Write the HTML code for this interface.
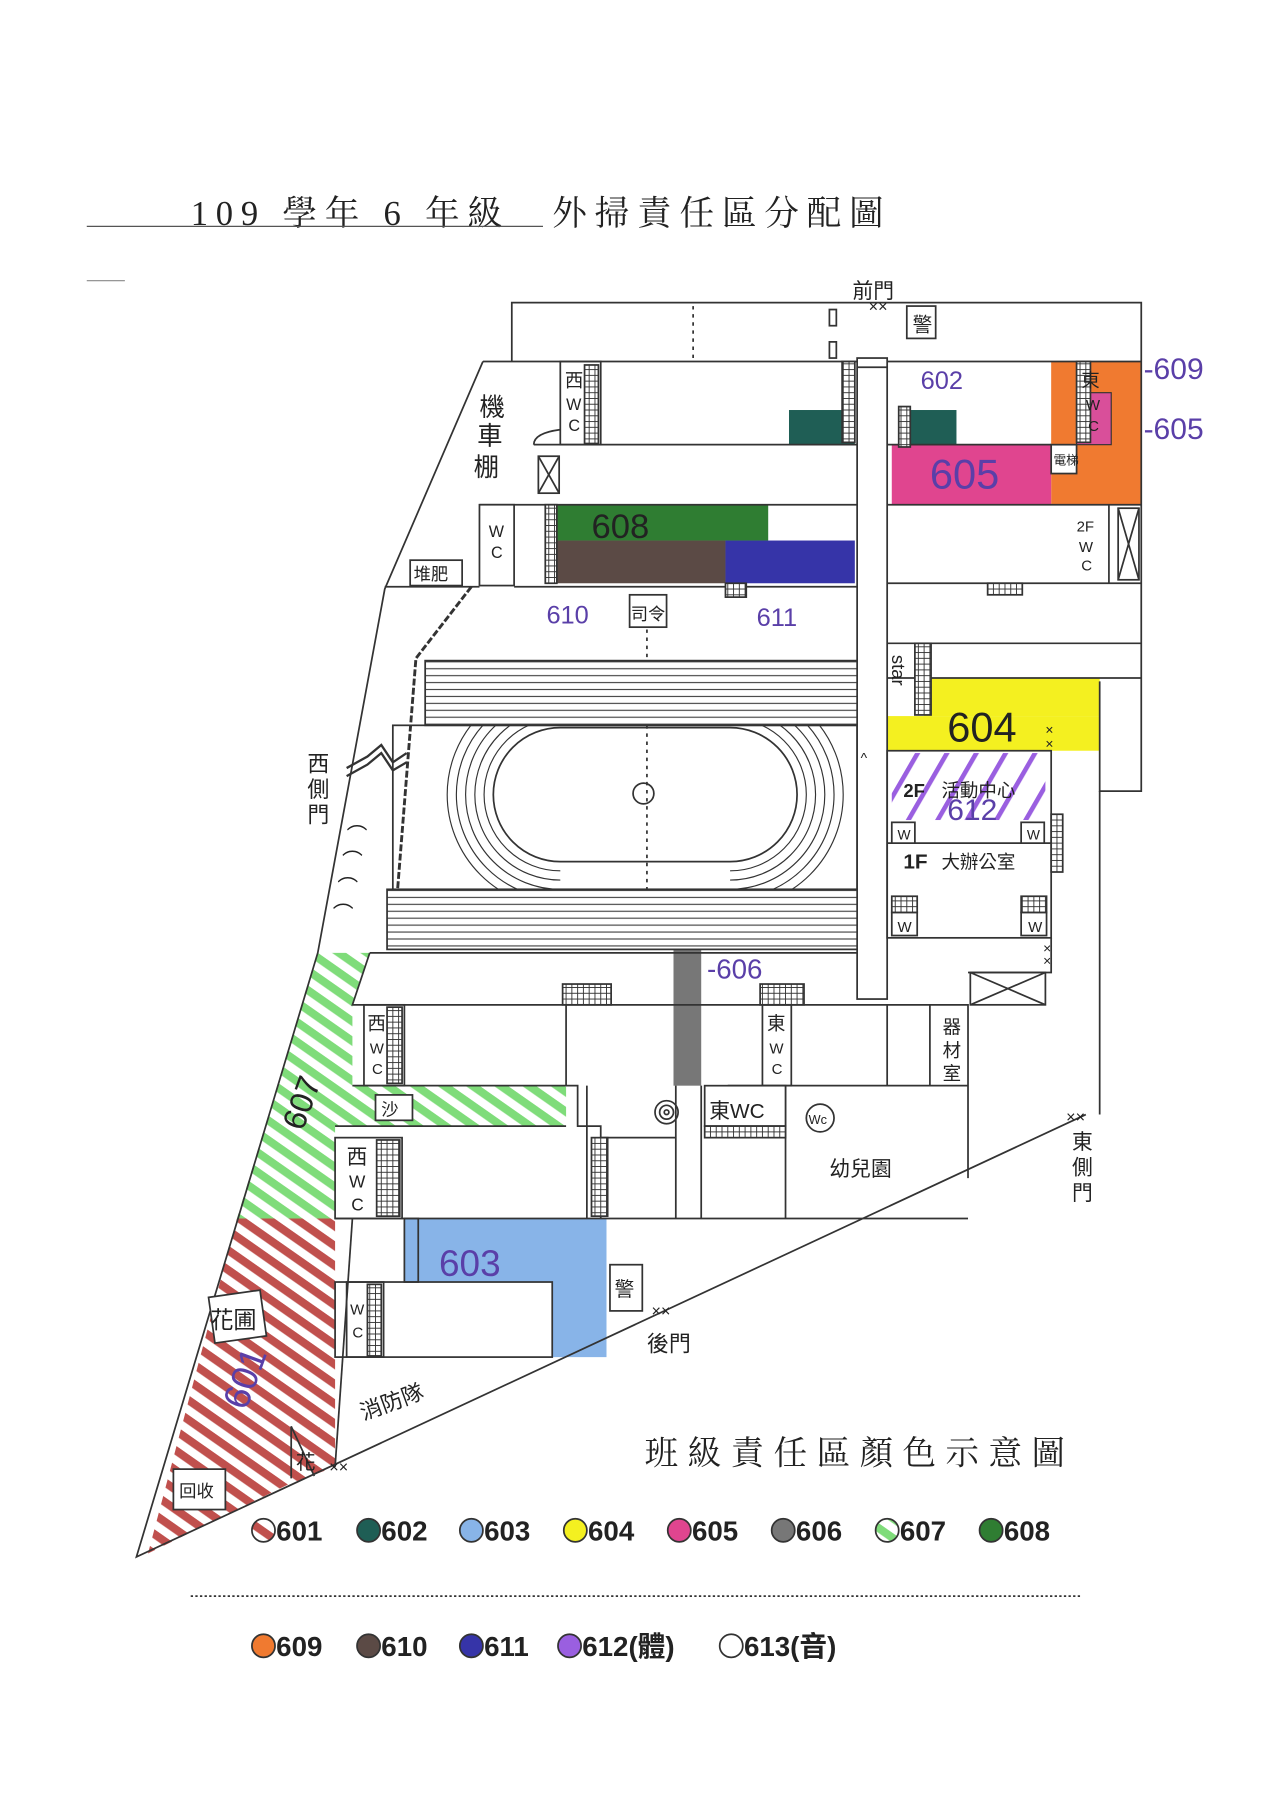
<!DOCTYPE html>
<html><head><meta charset="utf-8"><style>
html,body{margin:0;padding:0;background:#fff;}
svg{display:block;}
text{font-family:"Liberation Sans","Noto Sans CJK TC",sans-serif;fill:#222;}
.serif{font-family:"Liberation Serif","Noto Serif CJK SC",serif;}
.pu{fill:#5a3fa8;}
</style></head><body>
<svg width="1280" height="1811" viewBox="0 0 1108 1568" xmlns="http://www.w3.org/2000/svg">
<defs>
<pattern id="hg" width="14" height="14" patternUnits="userSpaceOnUse" patternTransform="rotate(35)"><rect width="14" height="14" fill="#fff"/><rect width="14" height="7" fill="#7fdc7a"/></pattern>
<pattern id="hr" width="14" height="14" patternUnits="userSpaceOnUse" patternTransform="rotate(35)"><rect width="14" height="14" fill="#fff"/><rect width="14" height="7" fill="#c0504d"/></pattern>
<pattern id="hp" width="22" height="22" patternUnits="userSpaceOnUse" patternTransform="rotate(-60)"><rect width="22" height="22" fill="#fff"/><rect width="22" height="4" fill="#9a5fe0"/></pattern>
<pattern id="st" width="10" height="6" patternUnits="userSpaceOnUse"><rect width="10" height="6" fill="#fff"/><line x1="0" y1="3" x2="10" y2="3" stroke="#444" stroke-width="1"/></pattern>
<pattern id="lad" width="5" height="5" patternUnits="userSpaceOnUse"><rect width="5" height="5" fill="#fff" stroke="#333" stroke-width="0.8"/></pattern>
<clipPath id="fld"><rect x="340" y="628" width="402" height="142"/></clipPath>
</defs>

<!-- Title -->
<text x="165" y="195" font-size="30" class="serif" textLength="600" lengthAdjust="spacing">109 學年 6 年級　外掃責任區分配圖</text>
<line x1="75" y1="196" x2="470" y2="196" stroke="#555" stroke-width="1"/>
<line x1="75" y1="243" x2="108" y2="243" stroke="#888" stroke-width="1"/>

<!-- color fills -->
<g>
<rect x="910" y="313" width="78" height="124" fill="#f07a30"/>
<rect x="932" y="340" width="30" height="45" fill="#d94f9a" stroke="#333"/>
<rect x="772" y="385" width="138" height="52" fill="#e0458f"/>
<rect x="683" y="355" width="57" height="30" fill="#1f5e55"/>
<rect x="778" y="355" width="50" height="30" fill="#1f5e55"/>
<rect x="472" y="437" width="193" height="31" fill="#2f7d32"/>
<rect x="472" y="468" width="156" height="37" fill="#5b4a45"/>
<rect x="628" y="468" width="112" height="37" fill="#3634a8"/>
<rect x="800" y="587" width="152" height="33" fill="#f4f020"/>
<rect x="768" y="620" width="184" height="30" fill="#f4f020"/>
<rect x="772" y="652" width="133" height="58" fill="url(#hp)"/>
<rect x="583" y="770" width="24" height="170" fill="#777"/>
<polygon points="275,825 320,825 305,870 305,940 490,940 490,975 290,975 290,1055 205,1055" fill="url(#hg)"/>
<polygon points="205,1055 290,1055 290,1270 250,1285 128,1345" fill="url(#hr)"/>
<polygon points="350,1055 525,1055 525,1175 478,1175 478,1110 350,1110" fill="#88b4e8"/>
</g>

<g fill="none" stroke="#333" stroke-width="1.5">
<polyline points="443,313 443,262 988,262 988,685 952,685 952,590"/>
<line x1="600" y1="265" x2="600" y2="310" stroke-dasharray="3,4"/>
<rect x="718" y="268" width="6" height="14"/><rect x="718" y="296" width="6" height="14"/>
<rect x="785" y="265" width="25" height="28" fill="#fff"/>
<polyline points="418,313 742,313"/>
<polyline points="768,313 988,313"/>
<line x1="462" y1="385" x2="742" y2="385"/>
<line x1="768" y1="385" x2="910" y2="385"/>
<rect x="485" y="313" width="35" height="72"/>
<rect x="506" y="316" width="12" height="68" fill="url(#lad)"/>
<rect x="932" y="313" width="12" height="70" fill="url(#lad)"/>
<rect x="729" y="313" width="11" height="70" fill="url(#lad)"/>
<rect x="778" y="352" width="10" height="35" fill="url(#lad)"/>
<path d="M462,385 Q462,375 485,372"/>
<rect x="466" y="395" width="18" height="32"/>
<line x1="466" y1="395" x2="484" y2="427"/><line x1="484" y1="395" x2="466" y2="427"/>
<rect x="910" y="385" width="22" height="25" fill="#fff"/>
<rect x="742" y="310" width="26" height="555" fill="#fff"/>
<line x1="742" y1="318" x2="768" y2="318"/>
<line x1="415" y1="437" x2="742" y2="437"/>
<line x1="768" y1="437" x2="988" y2="437"/>
<rect x="415" y="437" width="30" height="70" fill="#fff"/>
<line x1="445" y1="508" x2="742" y2="508"/>
<line x1="768" y1="505" x2="988" y2="505"/>
<rect x="472" y="437" width="10" height="68" fill="url(#lad)"/>
<line x1="960" y1="437" x2="960" y2="505"/>
<rect x="968" y="440" width="18" height="62"/>
<line x1="968" y1="440" x2="986" y2="502"/><line x1="986" y1="440" x2="968" y2="502"/>
<rect x="628" y="505" width="18" height="12" fill="url(#lad)"/>
<rect x="855" y="505" width="30" height="10" fill="url(#lad)"/>
<rect x="355" y="485" width="45" height="22" fill="#fff"/>
<rect x="545" y="515" width="32" height="28" fill="#fff"/>
<line x1="560" y1="545" x2="560" y2="572" stroke-dasharray="3,4"/>
<polyline points="418,313 333,510 275,825 118,1348 940,965"/>
<line x1="333" y1="508" x2="415" y2="508"/>
<polyline points="408,508 360,570 340,822" stroke-width="2.5" stroke-dasharray="6,2"/>
<path d="M300,665 L318,655 L330,645 L340,660 L352,652" stroke-width="2"/>
<path d="M300,672 L318,662 L330,652 L340,667 L352,660" stroke-width="2"/>
<rect x="368" y="572" width="374" height="56" fill="url(#st)"/>
<rect x="340" y="628" width="402" height="142"/>
<rect x="335" y="770" width="407" height="52" fill="url(#st)"/>
<g clip-path="url(#fld)">
<path d="M485,630 L632,630 A58,58 0 0 1 632,746 L485,746 A58,58 0 0 1 485,630Z"/>
<path d="M485,622 A66,66 0 0 0 485,754 M632,622 A66,66 0 0 1 632,754" stroke-width="1"/>
<path d="M485,614 A74,74 0 0 0 485,762 M632,614 A74,74 0 0 1 632,762" stroke-width="1"/>
<path d="M485,606 A82,82 0 0 0 485,770 M632,606 A82,82 0 0 1 632,770" stroke-width="1"/>
<path d="M485,598 A90,90 0 0 0 485,778 M632,598 A90,90 0 0 1 632,778" stroke-width="1"/>
<path d="M485,590 A98,98 0 0 0 485,786 M632,590 A98,98 0 0 1 632,786" stroke-width="1"/>
</g>
<line x1="560" y1="628" x2="560" y2="770" stroke-dasharray="3,4"/>
<circle cx="557" cy="687" r="9"/>
<line x1="768" y1="557" x2="988" y2="557"/>
<line x1="768" y1="587" x2="988" y2="587"/>
<rect x="792" y="557" width="14" height="62" fill="url(#lad)"/>
<rect x="768" y="650" width="142" height="162"/>
<line x1="768" y1="730" x2="910" y2="730"/>
<rect x="772" y="712" width="20" height="18" fill="#fff"/>
<rect x="884" y="712" width="20" height="18" fill="#fff"/>
<rect x="772" y="790" width="22" height="20" fill="#fff"/>
<rect x="884" y="790" width="22" height="20" fill="#fff"/>
<rect x="772" y="776" width="22" height="14" fill="url(#lad)"/>
<rect x="884" y="776" width="22" height="14" fill="url(#lad)"/>
<rect x="910" y="705" width="10" height="50" fill="url(#lad)"/>
<polyline points="910,812 910,842 838,842"/>
<rect x="840" y="842" width="65" height="28"/>
<line x1="840" y1="842" x2="905" y2="870"/><line x1="905" y1="842" x2="840" y2="870"/>
<polyline points="320,825 742,825"/>
<polyline points="320,825 305,870 838,870 838,1020"/>
<line x1="768" y1="870" x2="768" y2="940"/>
<rect x="487" y="852" width="42" height="18" fill="url(#lad)"/>
<rect x="658" y="852" width="38" height="18" fill="url(#lad)"/>
<line x1="305" y1="940" x2="490" y2="940"/>
<line x1="630" y1="940" x2="838" y2="940"/>
<rect x="315" y="870" width="35" height="70"/>
<rect x="335" y="872" width="13" height="66" fill="url(#lad)"/>
<rect x="660" y="870" width="25" height="70"/>
<line x1="805" y1="870" x2="805" y2="940"/>
<polyline points="490,870 490,940 500,940 500,975 520,975 520,1055"/>
<polyline points="508,940 508,1055"/>
<line x1="290" y1="975" x2="490" y2="975"/>
<line x1="520" y1="985" x2="585" y2="985"/>
<rect x="290" y="985" width="58" height="70"/>
<rect x="326" y="987" width="20" height="66" fill="url(#lad)"/>
<rect x="512" y="985" width="14" height="68" fill="url(#lad)"/>
<line x1="290" y1="1055" x2="838" y2="1055"/>
<line x1="585" y1="940" x2="585" y2="1055"/><line x1="607" y1="940" x2="607" y2="1055"/>
<line x1="680" y1="940" x2="680" y2="1055"/>
<rect x="610" y="940" width="70" height="35" fill="#fff"/>
<rect x="610" y="975" width="70" height="10" fill="url(#lad)"/>
<circle cx="577" cy="963" r="10"/><circle cx="577" cy="963" r="6"/><circle cx="577" cy="963" r="2"/>
<circle cx="710" cy="968" r="12"/>
<rect x="325" y="948" width="32" height="22" fill="#fff"/>
<line x1="305" y1="1055" x2="290" y2="1270"/>
<rect x="290" y="1110" width="188" height="65"/>
<rect x="300" y="1110" width="32" height="65"/>
<rect x="318" y="1112" width="12" height="62" fill="url(#lad)"/>
<rect x="350" y="1055" width="12" height="55"/>
<rect x="528" y="1095" width="28" height="40" fill="#fff"/>
<line x1="952" y1="685" x2="952" y2="965"/>
<rect x="183" y="1120" width="45" height="40" fill="#fff" transform="rotate(-8 205 1140)"/>
<rect x="150" y="1272" width="45" height="35" fill="#fff"/>
<polyline points="252,1280 252,1235 272,1278"/>
</g>

<g font-size="18">
<text x="738" y="258">前門</text>
<text x="790" y="287" font-size="17">警</text>
<text x="752" y="270" font-size="14">××</text>
<text x="415" y="360" font-size="22">機</text><text x="413" y="385" font-size="22">車</text><text x="410" y="412" font-size="22">棚</text>
<text x="489" y="335" font-size="16">西</text><text x="490" y="355" font-size="14">W</text><text x="492" y="373" font-size="14">C</text>
<text x="423" y="465" font-size="14">W</text><text x="425" y="483" font-size="14">C</text>
<text x="358" y="502" font-size="15">堆肥</text>
<text x="546" y="537" font-size="15">司令</text>
<text x="473" y="540" font-size="22" class="pu">610</text>
<text x="655" y="542" font-size="22" class="pu">611</text>
<text x="797" y="337" font-size="22" class="pu">602</text>
<text x="990" y="328" font-size="26" class="pu">-609</text>
<text x="990" y="380" font-size="26" class="pu">-605</text>
<text x="936" y="335" font-size="16">東</text><text x="940" y="355" font-size="13">W</text><text x="942" y="373" font-size="13">C</text>
<text x="805" y="423" font-size="36" class="pu">605</text>
<text x="912" y="402" font-size="11">電梯</text>
<text x="512" y="466" font-size="30" fill="#3a6a3a">608</text>
<text x="932" y="460" font-size="13">2F</text><text x="934" y="478" font-size="13">W</text><text x="936" y="494" font-size="13">C</text>
<text x="0" y="0" font-size="16" transform="translate(772,567) rotate(90)">star</text>
<text x="820" y="642" font-size="36" fill="#555">604</text>
<text x="905" y="636" font-size="12">×</text><text x="905" y="648" font-size="12">×</text>
<text x="782" y="690" font-size="16" font-weight="bold">2F</text>
<text x="815" y="690" font-size="16">活動中心</text>
<text x="820" y="710" font-size="26" class="pu">612</text>
<text x="777" y="727" font-size="12">W</text><text x="889" y="727" font-size="12">W</text>
<text x="782" y="752" font-size="18" font-weight="bold">1F</text>
<text x="815" y="752" font-size="16">大辦公室</text>
<text x="777" y="807" font-size="13">W</text><text x="890" y="807" font-size="13">W</text>
<text x="903" y="825" font-size="12">×</text><text x="903" y="836" font-size="12">×</text>
<text x="745" y="660" font-size="12">^</text>
<text x="266" y="668" font-size="19">西</text><text x="266" y="690" font-size="19">側</text><text x="266" y="712" font-size="19">門</text>
<text x="300" y="730" font-size="18">⌒</text><text x="296" y="752" font-size="18">⌒</text><text x="292" y="775" font-size="18">⌒</text><text x="288" y="798" font-size="18">⌒</text>
<text x="612" y="847" font-size="24" class="pu">-606</text>
<text x="318" y="892" font-size="16">西</text><text x="320" y="912" font-size="13">W</text><text x="322" y="930" font-size="13">C</text>
<text x="664" y="892" font-size="16">東</text><text x="666" y="912" font-size="13">W</text><text x="668" y="930" font-size="13">C</text>
<text x="816" y="895" font-size="16">器</text><text x="816" y="915" font-size="16">材</text><text x="816" y="935" font-size="16">室</text>
<text x="330" y="966" font-size="15">沙</text>
<text x="614" y="968" font-size="18">東WC</text>
<text x="700" y="973" font-size="11">Wc</text>
<text x="718" y="1018" font-size="18">幼兒園</text>
<text x="923" y="972" font-size="14">××</text>
<text x="928" y="995" font-size="18">東</text><text x="928" y="1017" font-size="18">側</text><text x="928" y="1039" font-size="18">門</text>
<text x="0" y="0" font-size="28" fill="#3a6a3a" transform="translate(262,980) rotate(-70)">607</text>
<text x="300" y="1008" font-size="18">西</text><text x="302" y="1028" font-size="15">W</text><text x="304" y="1048" font-size="15">C</text>
<text x="380" y="1105" font-size="32" class="pu">603</text>
<text x="532" y="1122" font-size="17">警</text>
<text x="303" y="1138" font-size="13">W</text><text x="305" y="1158" font-size="13">C</text>
<text x="564" y="1140" font-size="14">××</text>
<text x="560" y="1170" font-size="19">後門</text>
<text x="182" y="1150" font-size="20">花圃</text>
<text x="0" y="0" font-size="32" class="pu" transform="translate(213,1222) rotate(-70)">601</text>
<text x="310" y="1220" font-size="19" transform="rotate(-20 340 1212)">消防隊</text>
<text x="256" y="1272" font-size="17">花</text>
<text x="285" y="1275" font-size="14">××</text>
<text x="155" y="1296" font-size="15">回收</text>
</g>

<text x="558" y="1268" font-size="29" class="serif" textLength="364" lengthAdjust="spacing">班級責任區顏色示意圖</text>
<g font-size="24" font-weight="bold" stroke-width="1.5">
<circle cx="228" cy="1325" r="10" fill="url(#hr)" stroke="#333"/><text x="239" y="1334">601</text>
<circle cx="319" cy="1325" r="10" fill="#1f5e55" stroke="#333"/><text x="330" y="1334">602</text>
<circle cx="408" cy="1325" r="10" fill="#88b4e8" stroke="#333"/><text x="419" y="1334">603</text>
<circle cx="498" cy="1325" r="10" fill="#f4f020" stroke="#333"/><text x="509" y="1334">604</text>
<circle cx="588" cy="1325" r="10" fill="#e0458f" stroke="#333"/><text x="599" y="1334">605</text>
<circle cx="678" cy="1325" r="10" fill="#777" stroke="#333"/><text x="689" y="1334">606</text>
<circle cx="768" cy="1325" r="10" fill="url(#hg)" stroke="#333"/><text x="779" y="1334">607</text>
<circle cx="858" cy="1325" r="10" fill="#2f7d32" stroke="#333"/><text x="869" y="1334">608</text>
<line x1="165" y1="1382" x2="935" y2="1382" stroke="#333" stroke-width="1.5" stroke-dasharray="2,2"/>
<circle cx="228" cy="1425" r="10" fill="#f07a30" stroke="#333"/><text x="239" y="1434">609</text>
<circle cx="319" cy="1425" r="10" fill="#5b4a45" stroke="#333"/><text x="330" y="1434">610</text>
<circle cx="408" cy="1425" r="10" fill="#3634a8" stroke="#333"/><text x="419" y="1434">611</text>
<circle cx="493" cy="1425" r="10" fill="#9a5fe0" stroke="#333"/><text x="504" y="1434">612(體)</text>
<circle cx="633" cy="1425" r="10" fill="#fff" stroke="#333"/><text x="644" y="1434">613(音)</text>
</g>
</svg>
</body></html>
